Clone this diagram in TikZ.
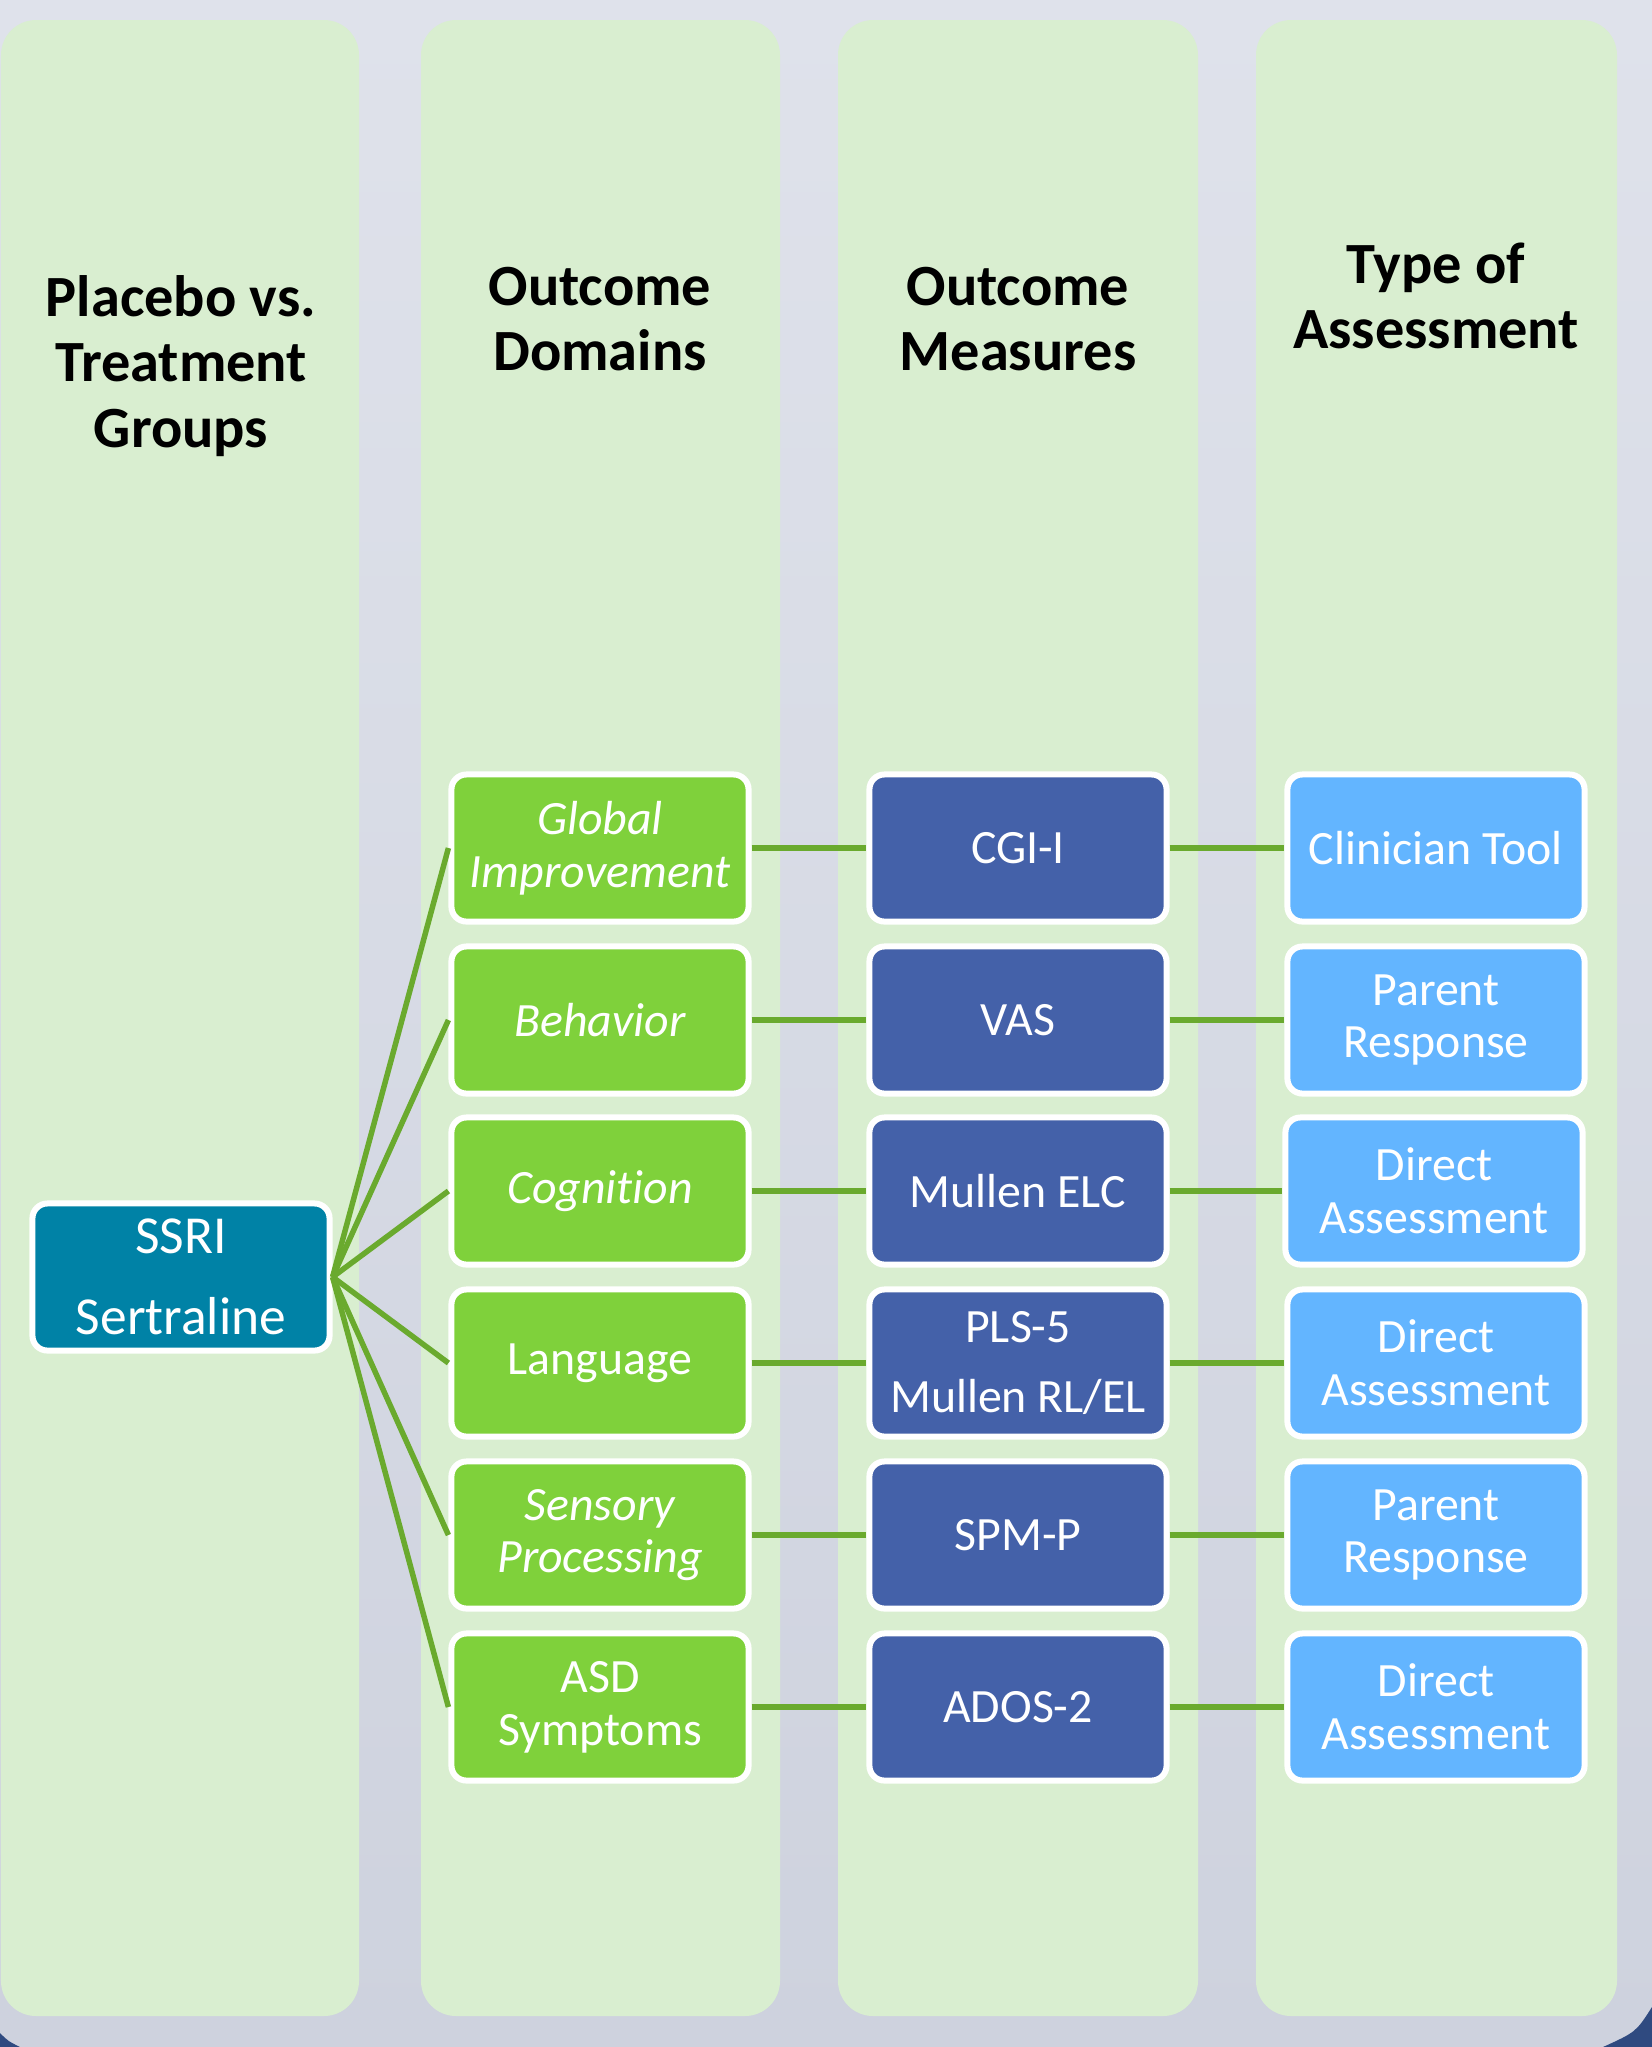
\documentclass[tikz,border=0pt]{standalone}
\usepackage{fontspec}
\setmainfont{Carlito}[Ligatures=NoCommon]
\definecolor{bgtop}{HTML}{DFE2EB}
\definecolor{bgbot}{HTML}{CED2DE}
\definecolor{colbg}{HTML}{D9EED0}
\definecolor{navyc}{HTML}{2F4A80}
\definecolor{ssricol}{HTML}{0082A6}
\definecolor{grn}{HTML}{7FD13B}
\definecolor{msr}{HTML}{4461A9}
\definecolor{lblue}{HTML}{63B5FF}
\definecolor{conncol}{HTML}{6AAA2E}
\tikzset{
  box/.style={draw=white, line width=0.06cm, rounded corners=0.15cm,
    minimum width=2.97cm, minimum height=1.47cm, inner sep=0pt,
    text=white, align=center, font=\fontsize{13.6}{15}\selectfont},
  dombox/.style={box, fill=grn},
  measbox/.style={box, fill=msr},
  typebox/.style={box, fill=lblue},
  ssribox/.style={box, fill=ssricol, font=\fontsize{15.2}{18}\selectfont},
  headtext/.style={align=center, text=black, font=\bfseries\fontsize{16.6}{18.6}\selectfont},
  conn/.style={draw=conncol, line width=0.055cm},
  colpanel/.style={fill=colbg, rounded corners=0.35cm}
}
\begin{document}
\begin{tikzpicture}[x=0.01cm, y=-0.01cm]
\useasboundingbox (0,0) rectangle (1652,2047);
\shade[top color=bgtop, bottom color=bgbot] (0,0) rectangle (1652,2047);
% dark frame corners
\fill[navyc] (0,2033) .. controls (8,2041) .. (20,2047) -- (0,2047) -- cycle;
\fill[navyc] (1652,2007) .. controls (1636,2032) .. (1603,2047) -- (1652,2047) -- cycle;
% column panels
\fill[colpanel] (1,20) rectangle (359,2016);
\fill[colpanel] (421,20) rectangle (780,2016);
\fill[colpanel] (838,20) rectangle (1198,2016);
\fill[colpanel] (1256,20) rectangle (1617,2016);
% headings
\node[headtext] (h1) at (181,366) {Placebo vs.\\Treatment\\Groups};
\node[headtext] (h2) at (600,319) {Outcome\\Domains};
\node[headtext] (h3) at (1018,319) {Outcome\\Measures};
\node[headtext] (h4) at (1436,296) {Type of\\Assessment};
% SSRI
\node[ssribox] (s) at (181,1277) {SSRI\\[5pt]Sertraline};
% domains
\node[dombox] (d1) at (600,848) {\itshape Global\\\itshape Improvement};
\node[dombox] (d2) at (600,1020) {\itshape Behavior};
\node[dombox] (d3) at (600,1191) {\itshape Cognition};
\node[dombox] (d4) at (600,1363) {Language};
\node[dombox] (d5) at (600,1535) {\itshape Sensory\\\itshape Processing};
\node[dombox] (d6) at (600,1707) {ASD\\Symptoms};
% measures
\node[measbox] (m1) at (1018,848) {CGI-I};
\node[measbox] (m2) at (1018,1020) {VAS};
\node[measbox] (m3) at (1018,1191) {Mullen ELC};
\node[measbox] (m4) at (1018,1363) {PLS-5\\[5pt]Mullen RL/EL};
\node[measbox] (m5) at (1018,1535) {SPM-P};
\node[measbox] (m6) at (1018,1707) {ADOS-2};
% types
\node[typebox] (t1) at (1436,848) {Clinician Tool};
\node[typebox] (t2) at (1436,1020) {Parent\\Response};
\node[typebox] (t3) at (1434,1191) {Direct\\Assessment};
\node[typebox] (t4) at (1436,1363) {Direct\\Assessment};
\node[typebox] (t5) at (1436,1535) {Parent\\Response};
\node[typebox] (t6) at (1436,1707) {Direct\\Assessment};
% connectors
\foreach \i in {1,...,6} {
  \draw[conn] (s.east) -- (d\i.west);
  \draw[conn] (d\i.east) -- (m\i.west);
  \draw[conn] (m\i.east) -- (t\i.west);
}
\end{tikzpicture}
\end{document}
